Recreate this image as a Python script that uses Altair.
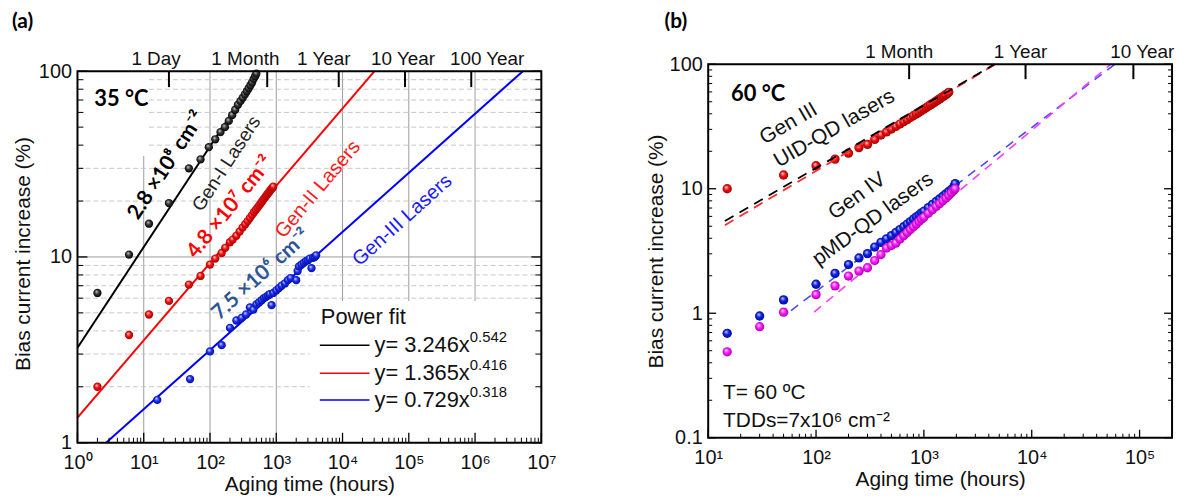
import altair as alt
import pandas as pd

# ---------------- panel (a): bias-current increase at 35 °C ----------------
gen1_hours = [2, 6, 12, 24, 48, 72, 96, 120, 144, 168, 192, 216, 240, 264, 288, 312,
              336, 360, 384, 408, 432, 456, 480, 500]
gen1_pct = [6.4, 10.3, 15.1, 19.5, 30.0, 33.5, 39.0, 43.0, 47.0, 50.0, 54.0, 58.0,
            62.0, 66.0, 69.0, 72.0, 75.0, 78.0, 81.0, 84.0, 87.0, 91.0, 94.0, 97.0]

gen2_hours = [2, 6, 12, 24, 48, 72, 100, 120, 150, 170, 200, 220, 250, 280, 310, 340,
              370, 400, 430, 460, 490, 520, 550, 580, 610, 640, 670, 700, 730, 760,
              790, 820, 850, 880, 900]
gen2_pct = [2.0, 3.8, 4.9, 5.8, 7.1, 7.9, 9.1, 9.8, 10.5, 11.2, 12.0, 12.4, 13.0, 13.7,
            14.4, 15.0, 15.6, 16.2, 16.8, 17.4, 17.9, 18.4, 18.9, 19.4, 19.9, 20.4,
            20.8, 21.3, 21.7, 22.1, 22.5, 22.9, 23.3, 23.6, 23.9]

gen3_hours = [16, 50, 100, 150, 200, 250, 300, 350, 400, 450, 500, 550, 600, 650, 700,
              750, 800, 850, 900, 1000, 1100, 1200, 1350, 1500, 1650, 2000, 2100, 2200,
              2400, 2600, 2800, 3000, 3200, 3400, 3600, 3800, 4000]
gen3_pct = [1.7, 2.2, 3.1, 3.35, 4.15, 4.55, 4.7, 4.9, 5.35, 5.2, 5.55, 5.7, 5.85, 6.0,
            6.1, 6.2, 6.3, 5.5, 6.4, 6.6, 6.8, 7.0, 7.2, 7.5, 7.7, 7.5, 8.4, 8.9, 9.1,
            9.3, 9.5, 9.6, 9.8, 8.7, 9.9, 10.0, 10.2]

# power-law fits quoted in the legend: y = coef * x ** power
fit_coef = [3.246, 1.365, 0.729]
fit_power = [0.542, 0.416, 0.318]
fit_color = ['#000000', '#ff0000', '#0000ff']
fit_text = ['y= 3.246x', 'y= 1.365x', 'y= 0.729x']
fit_sup = ['0.542', '0.416', '0.318']

# ---------------- panel (b): bias-current increase at 60 °C ----------------
uid_hours = [15, 50, 100, 150, 200, 250, 300, 350, 400, 450, 500, 550, 600, 650, 700,
             750, 800, 850, 900, 950, 1000, 1050, 1100, 1150, 1200, 1250, 1300, 1350,
             1400, 1450, 1500, 1550, 1600, 1650, 1700]
uid_pct = [10.0, 12.9, 15.3, 17.3, 19.3, 21.4, 22.7, 24.9, 27.0, 28.6, 30.2, 31.7, 33.1,
           34.6, 35.9, 37.3, 38.6, 39.9, 41.1, 42.4, 43.6, 44.8, 46.0, 47.2, 48.3, 49.4,
           50.6, 51.6, 52.7, 53.8, 54.9, 55.9, 57.0, 58.2, 59.5]

pmd_blue_hours = [15, 30, 50, 100, 150, 200, 250, 300, 350, 400, 450, 500, 550, 600, 650,
                  700, 750, 800, 850, 900, 950, 1000, 1100, 1200, 1300, 1400, 1500, 1600,
                  1700, 1800, 1900, 1950]
pmd_blue_pct = [0.69, 0.95, 1.28, 1.71, 2.09, 2.46, 2.78, 3.01, 3.4, 3.71, 3.96, 4.2,
                4.45, 4.7, 4.95, 5.2, 5.45, 5.7, 5.95, 6.15, 6.4, 6.6, 7.05, 7.5, 7.9,
                8.3, 8.7, 9.1, 9.5, 9.9, 10.4, 11.0]

pmd_mag_hours = [15, 30, 50, 100, 150, 200, 250, 300, 350, 400, 450, 500, 550, 600, 650,
                 700, 750, 800, 850, 900, 950, 1000, 1100, 1200, 1300, 1400, 1500, 1600,
                 1700, 1800, 1900, 1950]
pmd_mag_pct = [0.49, 0.78, 1.02, 1.41, 1.66, 1.99, 2.18, 2.32, 2.65, 2.96, 3.34, 3.5,
               3.66, 3.95, 4.2, 4.45, 4.7, 4.95, 5.2, 5.45, 5.7, 5.9, 6.35, 6.8, 7.2,
               7.6, 8.0, 8.4, 8.85, 9.3, 9.75, 10.0]

# dashed extrapolations (start and end point of each straight log-log segment)
ext_color = ['#ff2a2a', '#000000', '#4a4aff', '#ff3cff']
ext_h0 = [14.3, 14.3, 58.6, 96]
ext_p0 = [5.1, 5.5, 1.05, 1.02]
ext_h1 = [4600, 4500, 59000, 54000]
ext_p1 = [100, 100, 100, 100]

# ---------------- axes ----------------
a_decades = [1, 10, 100, 1000, 10000, 100000, 1000000, 10000000]
a_pct_major = [1, 10, 100]
b_decades = [10, 100, 1000, 10000, 100000]
b_pct_major = [0.1, 1, 10, 100]
time_hours = [24, 730, 8760, 87600, 876000]
time_names = ['1 Day', '1 Month', '1 Year', '10 Year', '100 Year']
time_dx_a = [-13, -22, -15, -2, 16]     # label nudges along the top edge
time_dx_b = [-10, -5, 9]

FONT = 'Liberation Sans, Arial, sans-serif'
BOLD = 'Lato'
W = 467
HA, TA = 374, 7      # (a): plot height, and its drop below the top of (b)
HB = 376

one = pd.DataFrame({'k': [0]})


def minor_ticks(lo, hi):
    out, d = [], lo
    while d < hi:
        out += [k * d for k in range(2, 10) if k * d < hi]
        d *= 10
    return out


SUP = "['\u2070','\u00b9','\u00b2','\u00b3','\u2074','\u2075','\u2076','\u2077']"


def bottom_axis(vals):
    return alt.Axis(orient='bottom', values=vals,
                    labelExpr="'10' + %s[round(log(datum.value) / LN10)]" % SUP,
                    ticks=False, domain=False, grid=False, labelFlush=False, labelOverlap=False,
                    labelPadding=10, title='Aging time (hours)', titlePadding=1)


def left_axis(vals, tpad):
    return alt.Axis(orient='left', values=vals, labelExpr="'' + datum.value",
                    ticks=False, domain=False, grid=False, labelFlush=False, labelOverlap=False,
                    labelPadding=6, title='Bias current increase (%)', titlePadding=tpad)


class Panel:
    """Shared scales and axes for one panel; every layer uses the same axis objects."""

    def __init__(self, xs, ys, ax, ay):
        self.xs, self.ys, self.ax, self.ay = xs, ys, ax, ay

    def X(self, f):
        return alt.X(f, scale=self.xs, axis=self.ax)

    def Y(self, f):
        return alt.Y(f, scale=self.ys, axis=self.ay)

    def vrules(self, vals, y0, y1, color='black', width=1.0, dash=None):
        mk = dict(color=color, strokeWidth=width)
        if dash:
            mk['strokeDash'] = dash
        return alt.Chart(pd.DataFrame({'v': vals})).mark_rule(**mk).encode(
            x=self.X('v:Q'), y=alt.value(y0), y2=alt.value(y1))

    def hrules(self, vals, x0, x1, color='black', width=1.0, dash=None):
        mk = dict(color=color, strokeWidth=width)
        if dash:
            mk['strokeDash'] = dash
        return alt.Chart(pd.DataFrame({'v': vals})).mark_rule(**mk).encode(
            y=self.Y('v:Q'), x=alt.value(x0), x2=alt.value(x1))

    def points(self, hours, pct, grad, size):
        df = pd.DataFrame({'h': hours, 'p': pct})
        return alt.Chart(df).mark_circle(fill=grad, size=size, opacity=1).encode(
            x=self.X('h:Q'), y=self.Y('p:Q'))

    def segment(self, h, p, color, width=2.0, dash=None):
        mk = dict(color=color, strokeWidth=width)
        if dash:
            mk['strokeDash'] = dash
        return alt.Chart(pd.DataFrame({'h': h, 'p': p})).mark_line(**mk).encode(
            x=self.X('h:Q'), y=self.Y('p:Q'))

    def time_label(self, hours, name, y, dx):
        return alt.Chart(pd.DataFrame({'h': [hours], 'name': [name]})).mark_text(
            fontSize=19, font=FONT, color='#111111', baseline='middle', dx=dx
        ).encode(x=self.X('h:Q'), y=alt.value(y), text='name:N')

    def box(self, h0, h1, p0, p1):
        df = pd.DataFrame({'h0': h0, 'h1': h1, 'p0': p0, 'p1': p1})
        return alt.Chart(df).mark_rect(color='white').encode(
            x=self.X('h0:Q'), x2='h1:Q', y=self.Y('p0:Q'), y2='p1:Q')


def txt(s, x, y, size=19, color='#111111', angle=0, font=FONT, weight='normal',
        align='center', baseline='middle'):
    return alt.Chart(one).mark_text(
        text=s, fontSize=size, color=color, angle=angle, font=font,
        fontWeight=weight, align=align, baseline=baseline
    ).encode(x=alt.value(x), y=alt.value(y))


def ball(hi, mid, lo):
    return alt.RadialGradient(
        gradient='radial',
        stops=[alt.GradientStop(offset=0.0, color=hi),
               alt.GradientStop(offset=0.45, color=mid),
               alt.GradientStop(offset=1.0, color=lo)],
        x1=0.38, y1=0.32, r1=0.02, x2=0.5, y2=0.5, r2=0.55)


def frame(x0, x1, y0, y1):
    return alt.Chart(one).mark_rect(fillOpacity=0, stroke='black', strokeWidth=2).encode(
        x=alt.value(x0), x2=alt.value(x1), y=alt.value(y0), y2=alt.value(y1))


# ======================= panel (a) =======================
# the y domain runs a little past 100 so that the 1..100 frame starts TA px below the top
ya_top = 100 * 10 ** (2.0 * TA / HA)
A = Panel(alt.Scale(type='log', domain=[1, 1e7], nice=False),
          alt.Scale(type='log', domain=[1, ya_top], nice=False),
          bottom_axis(a_decades), left_axis(a_pct_major, 5))
a_minor_pct = minor_ticks(1, 100)

a_layers = [
    A.vrules(a_decades[1:-1], TA, TA + HA, color='#9c9c9c', width=1),
    A.hrules(a_minor_pct, 0, W, color='#c8c8c8', width=1, dash=[5, 3]),
    A.hrules([10], 0, W, color='#9c9c9c', width=1),
    # white panels behind the temperature tag and the fit legend
    A.box([1, 3200], [11, 1e7], [35, 1], [100, 5.8]),
]
for c, pw, col in zip(fit_coef, fit_power, fit_color):
    h0 = max(1.0, (1.0 / c) ** (1 / pw))
    h1 = min(1e7, (100.0 / c) ** (1 / pw))
    a_layers.append(A.segment([h0, h1], [c * h0 ** pw, c * h1 ** pw], col, width=2))

a_layers += [
    A.points(gen1_hours, gen1_pct, ball('#c8c8c8', '#333333', '#000000'), 70),
    A.points(gen2_hours, gen2_pct, ball('#ffd0d0', '#f01010', '#a00000'), 70),
    A.points(gen3_hours, gen3_pct, ball('#d0d8ff', '#1a2cf0', '#000a9a'), 70),
]

a_layers += [
    txt('(a)', -66, -43, size=21, font=BOLD, weight='bold', align='left', color='#000000'),
    txt('35 \u00b0C', 17, 28 + TA, size=22, font=BOLD, weight='bold', align='left', color='#000000'),
    txt('2.8 \u00d710\u2078 cm\u207b\u00b2', 90, 95 + TA, size=21, font=BOLD, weight='bold',
        angle=303, color='#000000'),
    txt('Gen-I  Lasers', 150, 93 + TA, size=19, angle=303, color='#222222'),
    txt('4.8 \u00d710\u2077 cm\u207b\u00b2', 154, 137 + TA, size=21, font=BOLD, weight='bold',
        angle=309, color='#ff0000'),
    txt('Gen-II  Lasers', 242, 119 + TA, size=20, angle=310, color='#ff1a1a'),
    txt('7.5 \u00d710\u2076 cm\u207b\u00b2', 185, 205 + TA, size=21, font=BOLD, weight='bold',
        angle=318, color='#2e5597'),
    txt('Gen-III  Lasers', 327, 150 + TA, size=20, angle=318, color='#1a1aff'),
    # fit legend
    txt('Power fit', 245, 248 + TA, size=22, align='left'),
]
for i, (col, t, s) in enumerate(zip(fit_color, fit_text, fit_sup)):
    yy = [276, 304, 331][i] + TA
    a_layers += [
        alt.Chart(one).mark_rule(color=col, strokeWidth=1.5).encode(
            x=alt.value(244), x2=alt.value(294), y=alt.value(yy)),
        txt(t, 299, yy, size=22, align='left'),
        txt(s, 395, yy - 8, size=15, align='left'),
    ]

a_layers += [
    frame(0, W, TA, TA + HA),
    A.vrules(a_decades, TA + HA, TA + HA - 10, width=1.3),
    A.vrules(minor_ticks(1, 1e7), TA + HA, TA + HA - 5, width=1),
    A.hrules(a_pct_major, 0, 10, width=1.3),
    A.hrules(a_minor_pct, 0, 6, width=1),
    A.hrules(a_pct_major, W, W - 10, width=1.3),
    A.hrules(a_minor_pct, W, W - 6, width=1),
    A.vrules(time_hours, TA, TA + 16, width=2),
]
a_layers += [A.time_label(h, n, TA - 12, dx) for h, n, dx in zip(time_hours, time_names, time_dx_a)]

panel_a = alt.layer(*a_layers).properties(width=W, height=TA + HA)

# ======================= panel (b) =======================
B = Panel(alt.Scale(type='log', domain=[10, 2e5], nice=False),
          alt.Scale(type='log', domain=[0.1, 100], nice=False),
          bottom_axis(b_decades), left_axis(b_pct_major, 3))
b_minor_pct = minor_ticks(0.1, 100)

b_layers = []
# Gen IV extrapolations sit under the points, Gen III ones over them
for i in [2, 3]:
    b_layers.append(B.segment([ext_h0[i], ext_h1[i]], [ext_p0[i], ext_p1[i]],
                              ext_color[i], width=1.6, dash=[9, 7]))
b_layers += [
    B.points(uid_hours, uid_pct, ball('#ffd0d0', '#ee1010', '#9a0000'), 88),
    B.points(pmd_blue_hours, pmd_blue_pct, ball('#c8d0ff', '#1020e8', '#00088a'), 88),
    B.points(pmd_mag_hours, pmd_mag_pct, ball('#ffd6ff', '#ff1cff', '#a000a0'), 88),
]
for i in [0, 1]:
    b_layers.append(B.segment([ext_h0[i], ext_h1[i]], [ext_p0[i], ext_p1[i]],
                              ext_color[i], width=1.8, dash=[10, 7]))

b_layers += [
    txt('(b)', -44, -43, size=21, font=BOLD, weight='bold', align='left', color='#000000'),
    txt('60 \u00b0C', 23, 30, size=22, font=BOLD, weight='bold', align='left', color='#000000'),
    txt('Gen III', 81, 60, size=21, angle=330),
    txt('UID-QD lasers', 127, 65, size=21, angle=330),
    txt('Gen IV', 150, 133, size=21, angle=324),
    txt('pMD-QD lasers', 166, 156, size=21, angle=324),
    txt('T= 60 \u00baC', 15, 331, size=21, align='left'),
    txt('TDDs=7x10\u2076 cm\u207b\u00b2', 15, 359, size=21, align='left'),
    frame(0, W, 0, HB),
    B.vrules(b_decades, HB, HB - 8, width=1.3),
    B.vrules(minor_ticks(10, 2e5), HB, HB - 4, width=1),
    B.hrules(b_pct_major, 0, 8, width=1.3),
    B.hrules(b_minor_pct, 0, 4, width=1),
    B.hrules(b_pct_major, W, W - 8, width=1.3),
    B.hrules(b_minor_pct, W, W - 4, width=1),
    B.vrules(time_hours[1:4], 0, 15, width=2),
]
b_layers += [B.time_label(h, n, -12, dx)
             for h, n, dx in zip(time_hours[1:4], time_names[1:4], time_dx_b)]

panel_b = alt.layer(*b_layers).properties(width=W, height=HB)

chart = alt.hconcat(panel_a, panel_b, spacing=89).properties(
    padding={'left': 12, 'top': 9, 'right': 4, 'bottom': 4},
    background='white',
).configure_view(stroke=None).configure_axis(
    labelFont=FONT, labelFontSize=20, labelColor='#111111',
    titleFont=FONT, titleFontSize=21, titleFontWeight='normal', titleColor='#111111')

chart.save('out.html', embed_options={'renderer': 'svg', 'actions': False})
